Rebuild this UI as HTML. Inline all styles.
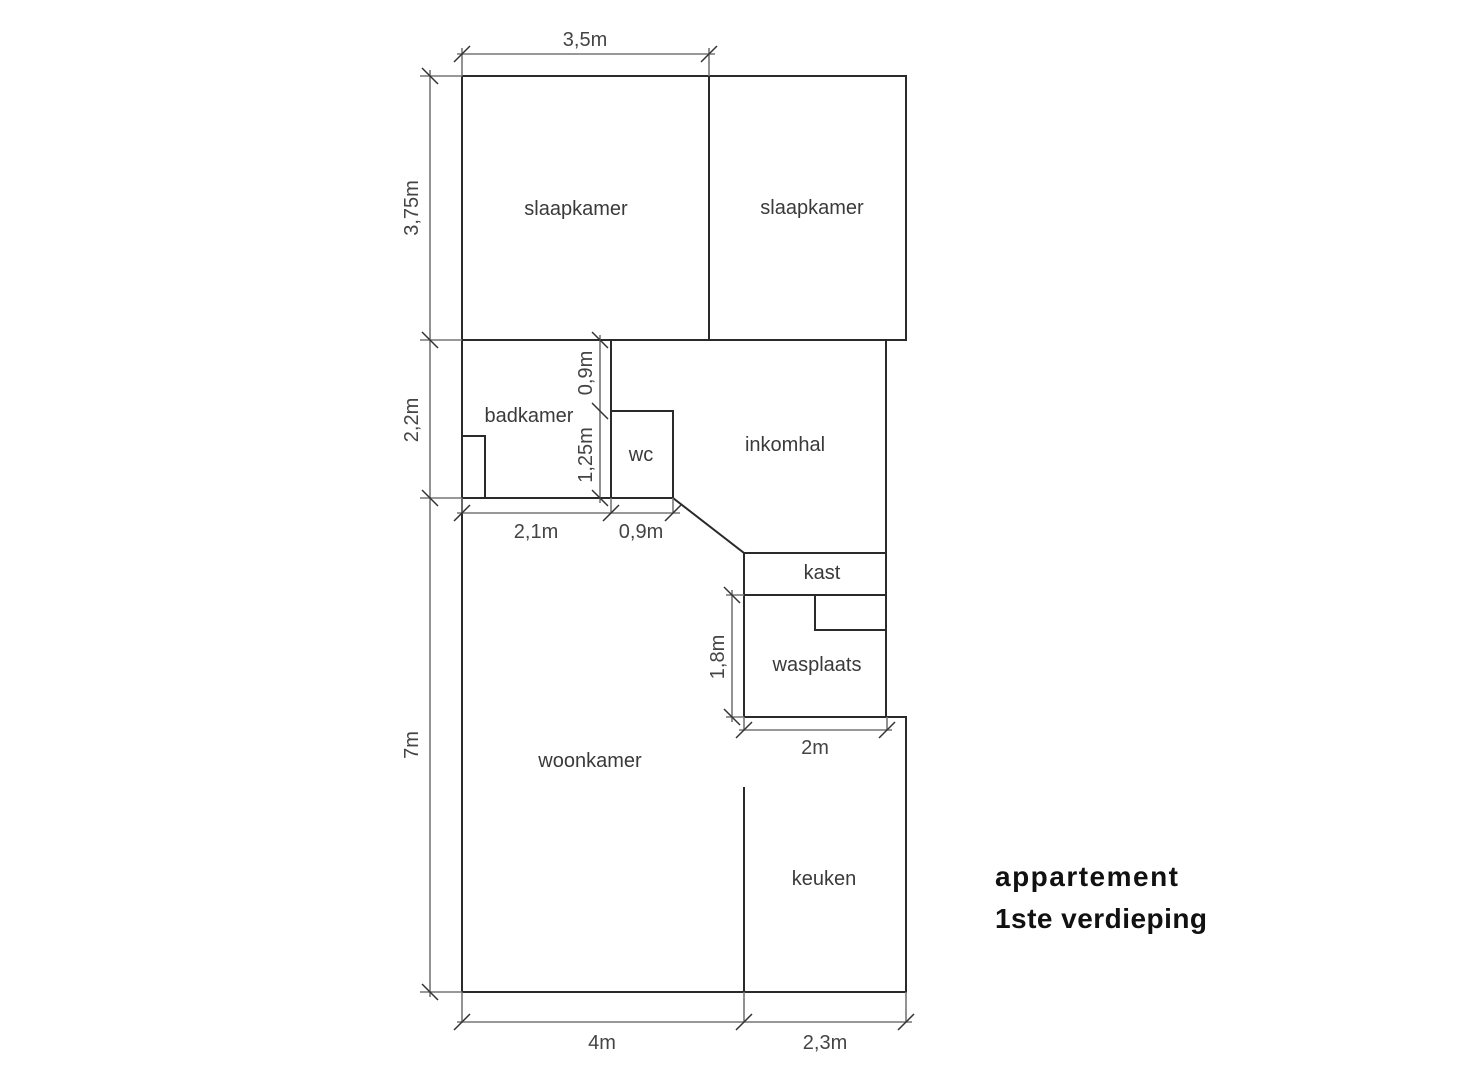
<!DOCTYPE html>
<html><head><meta charset="utf-8"><style>
html,body{margin:0;padding:0;background:#fff;width:1482px;height:1080px;overflow:hidden}
svg{display:block}
.w{stroke:#2a2a2a;stroke-width:2;fill:none}
.d{stroke:#777;stroke-width:1.6;fill:none}
.t{stroke:#333;stroke-width:1.5}
text{font-family:"Liberation Sans","DejaVu Sans",sans-serif;fill:#3a3a3a}
.r{font-size:20px;text-anchor:middle}
.m{font-size:20px;text-anchor:middle;fill:#444}
</style></head><body>
<svg width="1482" height="1080" viewBox="0 0 1482 1080">
<g class="w">
<path d="M462 76 H906 V340 H462 Z"/>
<path d="M709 76 V340"/>
<path d="M462 340 V992 H906 V717 H744"/>
<path d="M611 340 V498"/>
<path d="M886 340 V717"/>
<path d="M462 498 H673"/>
<path d="M611 411 H673 V498 L744 553 V717"/>
<path d="M744 553 H886"/>
<path d="M744 595 H886"/>
<path d="M815 595 V630 H886"/>
<path d="M462 436 H485 V498"/>
<path d="M744 787 V992"/>
</g>
<g class="d">
<path d="M430 70 V997"/>
<path d="M420 76 H462 M420 340 H462 M420 498 H462 M420 992 H462"/>
<path d="M457 54 H715"/>
<path d="M462 48 V76 M709 48 V76"/>
<path d="M600 335 V503"/>
<path d="M457 513 H680"/>
<path d="M462 498 V513 M611 498 V513 M673 498 V513"/>
<path d="M732 590 V722"/>
<path d="M726 595 H744 M726 717 H744"/>
<path d="M739 730 H892"/>
<path d="M744 717 V730 M887 717 V730"/>
<path d="M457 1022 H912"/>
<path d="M462 992 V1022 M744 992 V1022 M906 992 V1022"/>
</g>
<g class="t">
<path d="M422 68 L438 84 M422 332 L438 348 M422 490 L438 506 M422 984 L438 1000"/>
<path d="M454 62 L470 46 M701 62 L717 46"/>
<path d="M592 332 L608 348 M592 403 L608 419 M592 490 L608 506"/>
<path d="M454 521 L470 505 M603 521 L619 505 M665 521 L681 505"/>
<path d="M724 587 L740 603 M724 709 L740 725"/>
<path d="M736 738 L752 722 M879 738 L895 722"/>
<path d="M454 1030 L470 1014 M736 1030 L752 1014 M898 1030 L914 1014"/>
</g>
<text class="r" x="576" y="215">slaapkamer</text>
<text class="r" x="812" y="214">slaapkamer</text>
<text class="r" x="529" y="422">badkamer</text>
<text class="r" x="641" y="461">wc</text>
<text class="r" x="785" y="451">inkomhal</text>
<text class="r" x="822" y="579">kast</text>
<text class="r" x="817" y="671">wasplaats</text>
<text class="r" x="590" y="767">woonkamer</text>
<text class="r" x="824" y="885">keuken</text>
<text class="m" x="585" y="46">3,5m</text>
<text class="m" x="536" y="538">2,1m</text>
<text class="m" x="641" y="538">0,9m</text>
<text class="m" x="815" y="754">2m</text>
<text class="m" x="602" y="1049">4m</text>
<text class="m" x="825" y="1049">2,3m</text>
<text class="m" transform="translate(418 208) rotate(-90)">3,75m</text>
<text class="m" transform="translate(418 420) rotate(-90)">2,2m</text>
<text class="m" transform="translate(418 745) rotate(-90)">7m</text>
<text class="m" transform="translate(592 373) rotate(-90)">0,9m</text>
<text class="m" transform="translate(592 455) rotate(-90)">1,25m</text>
<text class="m" transform="translate(724 657) rotate(-90)">1,8m</text>
<text x="995" y="886" font-size="28" font-weight="bold" textLength="183" style="fill:#111">appartement</text>
<text x="995" y="928" font-size="28" font-weight="bold" textLength="212" style="fill:#111">1ste verdieping</text>
</svg>
</body></html>
